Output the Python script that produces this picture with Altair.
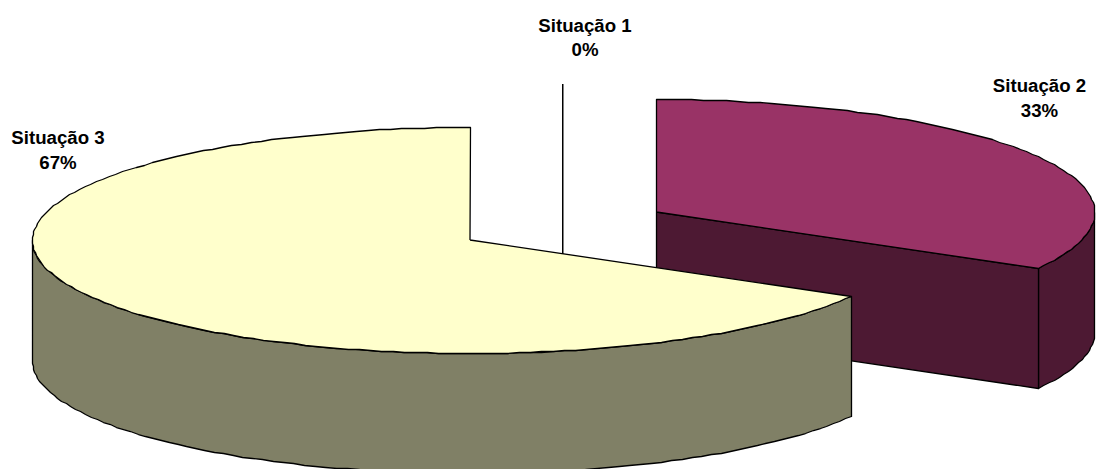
import numpy as np
import pandas as pd
import altair as alt

# Chart values
names = ["Situação 1", "Situação 2", "Situação 3"]
shares = [0.0, 33.2, 66.8]
percent_labels = ["0%", "33%", "67%"]

# Label anchors (centre of the name line) and line spacing
label_x = [585, 1039.5, 58]
label_y = [25.5, 86, 138]
line_gap = 24.5

# Tilted-disc geometry: each slice is pulled out to its own centre
radius_x = 438
radius_y = 113
depth = 120
centre_2 = (656.5, 212)
centre_3 = (470, 240)
leader_x = [562.75, 562.75]
leader_y = [84, 254]

COLOURS = {
    "top_2": "#993366",
    "side_2": "#4D1933",
    "top_3": "#FFFFCC",
    "side_3": "#808066",
}
W, H = 1096, 469

x_scale = alt.Scale(domain=[0, W], range=[0, W], nice=False, zero=False)
y_scale = alt.Scale(domain=[0, H], range=[0, H], nice=False, zero=False)


def rim(centre, start, end, drop=0.0, step=1.5):
    """Points on the disc edge, angles clockwise from twelve o'clock in degrees.

    Vertices snap to whole units so the edge reads as a slightly rough polyline.
    """
    count = max(2, int(abs(end - start) / step) + 1)
    t = np.radians(np.linspace(start, end, count))
    xs = np.round(centre[0] + radius_x * np.sin(t)) + 0.5
    ys = np.round(centre[1] - radius_y * np.cos(t) + drop) + 0.5
    return list(zip(xs, ys))


def shape(points, fill):
    """One closed outline drawn as a filled line."""
    points = list(points) + [points[0]]
    frame = pd.DataFrame(points, columns=["px", "py"])
    frame["seq"] = range(len(frame))
    return (
        alt.Chart(frame)
        .mark_line(fill=fill, stroke="#000000", strokeWidth=1.3, strokeJoin="round", clip=False)
        .encode(
            x=alt.X("px:Q", scale=x_scale, axis=None),
            y=alt.Y("py:Q", scale=y_scale, axis=None),
            order=alt.Order("seq:Q"),
        )
    )


# Slice boundaries derived from the shares
cut_2 = shares[1] / 100 * 360
cut_3_start = cut_2

# Slice 2: outer wall, cut face, top
wall_2 = rim(centre_2, 90, cut_2) + rim(centre_2, cut_2, 90, depth)
face_point = rim(centre_2, cut_2, cut_2)[0]
face_2 = [
    centre_2,
    face_point,
    (face_point[0], face_point[1] + depth),
    (centre_2[0], centre_2[1] + depth),
]
top_2 = [centre_2] + rim(centre_2, 0, cut_2)

# Slice 3: outer wall and top
wall_3 = rim(centre_3, cut_3_start, 270) + rim(centre_3, 270, cut_3_start, depth)
top_3 = [centre_3] + rim(centre_3, cut_3_start, 360)

layers = [
    shape(wall_2, COLOURS["side_2"]),
    shape(face_2, COLOURS["side_2"]),
    shape(top_2, COLOURS["top_2"]),
    shape(wall_3, COLOURS["side_3"]),
    shape(top_3, COLOURS["top_3"]),
]

leader = (
    alt.Chart(pd.DataFrame({"px": leader_x, "py": leader_y}))
    .mark_line(color="#000000", strokeWidth=1.5)
    .encode(
        x=alt.X("px:Q", scale=x_scale, axis=None),
        y=alt.Y("py:Q", scale=y_scale, axis=None),
    )
)

rows = []
for name, pct, lx, ly in zip(names, percent_labels, label_x, label_y):
    rows.append({"px": lx, "py": ly, "txt": name})
    rows.append({"px": lx, "py": ly + line_gap, "txt": pct})

labels = (
    alt.Chart(pd.DataFrame(rows))
    .mark_text(font="Liberation Sans", fontWeight="bold", fontSize=18.67, color="#000000",
               align="center", baseline="middle")
    .encode(
        x=alt.X("px:Q", scale=x_scale, axis=None),
        y=alt.Y("py:Q", scale=y_scale, axis=None),
        text="txt:N",
    )
)

chart = (
    alt.layer(*layers, leader, labels)
    .properties(width=W, height=H, padding=0, background="#FFFFFF",
                autosize=alt.AutoSizeParams(type="none"))
    .configure_view(stroke=None)
)

chart.save("out.html", embed_options={"renderer": "svg", "actions": False})
